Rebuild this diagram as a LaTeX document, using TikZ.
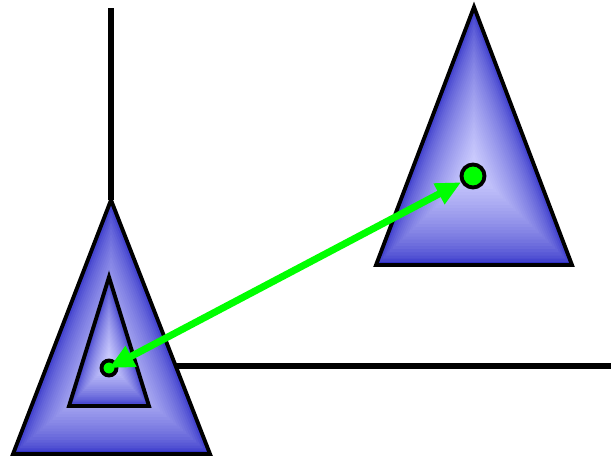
\documentclass[tikz,border=0pt]{standalone}
\usepackage{tikz}
\usetikzlibrary{calc,arrows.meta}
\usepackage{xcolor}
\definecolor{edgeblue}{RGB}{48,48,200}
\definecolor{coreblue}{RGB}{208,208,255}
\definecolor{brightgreen}{RGB}{0,255,0}

\begin{document}
\begin{tikzpicture}[x=0.02cm, y=-0.02cm,
    outline/.style={draw=black, line width=2.2pt},
    rule/.style={line width=3.2pt},
    dot/.style={circle, draw=black, fill=brightgreen, line width=2.2pt, inner sep=0pt},
    link/.style={brightgreen, line width=4pt, {Triangle[length=0.5cm,width=0.44cm]}-{Triangle[length=0.5cm,width=0.44cm]}}]
    \useasboundingbox (0,0) rectangle (611,457);
    \coordinate (ltop) at (111,8);
    \coordinate (hstart) at (150,366);
    \coordinate (hend) at (611,366);
    \coordinate (la) at (111,200);
    \coordinate (lb) at (13,454);
    \coordinate (ld) at (210,454);
    \coordinate (lc) at (111,369);
    \coordinate (ia) at (109,277);
    \coordinate (ib) at (69,406);
    \coordinate (id) at (149,406);
    \coordinate (ic) at (109,363);
    \coordinate (ra) at (474,7);
    \coordinate (rb) at (376,265);
    \coordinate (rd) at (572,265);
    \coordinate (rc) at (474,170);
    \draw[rule] (ltop) -- (la);
    \draw[rule] (hstart) -- (hend);
    \foreach \i in {0,...,29} {
        \pgfmathsetmacro{\f}{1-\i/30}
        \pgfmathsetmacro{\m}{100*(\i/29)^0.6}
        \fill[coreblue!\m!edgeblue] ($(rc)!\f!(ra)$) -- ($(rc)!\f!(rb)$) -- ($(rc)!\f!(rd)$) -- cycle;
        \fill[coreblue!\m!edgeblue] ($(lc)!\f!(la)$) -- ($(lc)!\f!(lb)$) -- ($(lc)!\f!(ld)$) -- cycle;
    }
    \draw[outline] (ra) -- (rb) -- (rd) -- cycle;
    \draw[outline] (la) -- (lb) -- (ld) -- cycle;
    \foreach \i in {0,...,19} {
        \pgfmathsetmacro{\f}{1-\i/20}
        \pgfmathsetmacro{\m}{100*(\i/19)^0.6}
        \fill[coreblue!\m!edgeblue] ($(ic)!\f!(ia)$) -- ($(ic)!\f!(ib)$) -- ($(ic)!\f!(id)$) -- cycle;
    }
    \draw[outline] (ia) -- (ib) -- (id) -- cycle;
    \node[dot, minimum size=0.3cm] (ldot) at (109,368) {};
    \node[dot, minimum size=0.46cm] (rdot) at (473,176) {};
    \draw[link] (ldot.center) -- (rdot);
\end{tikzpicture}
\end{document}
